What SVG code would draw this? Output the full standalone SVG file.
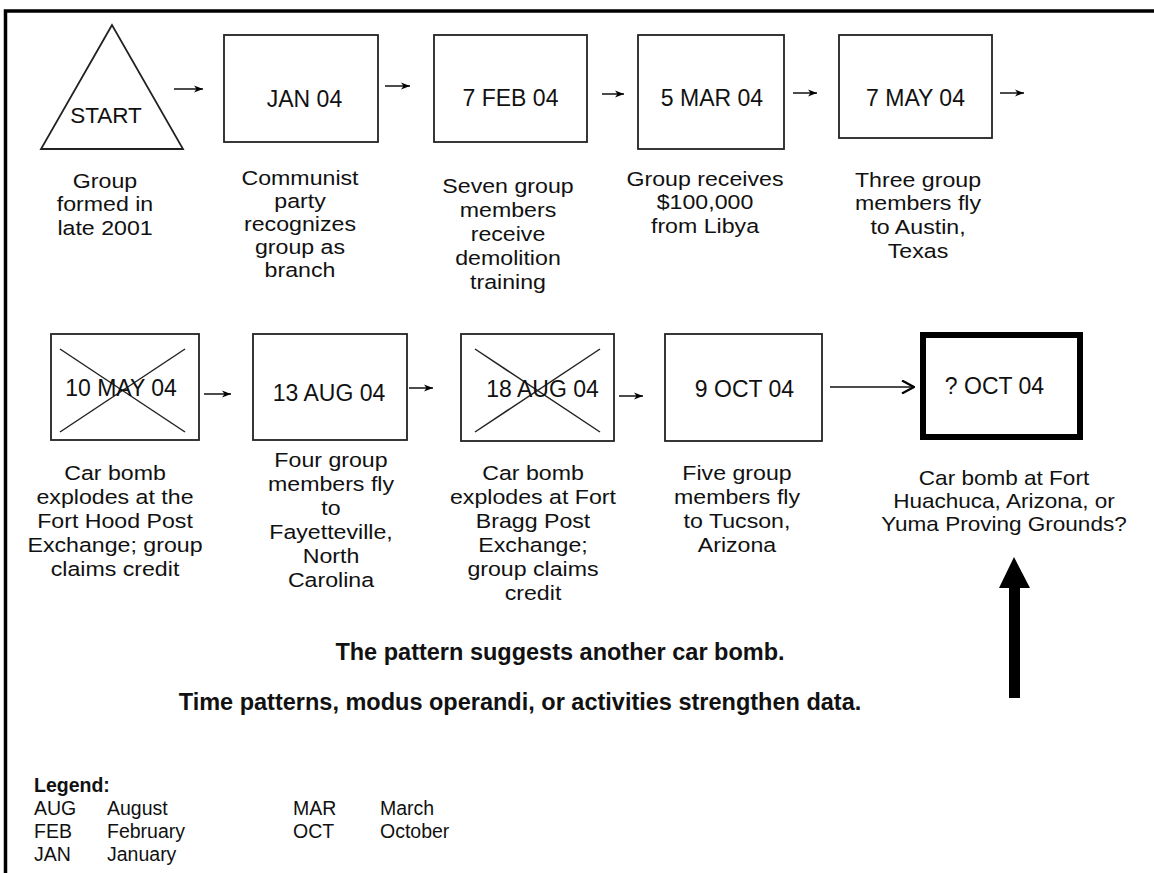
<svg xmlns="http://www.w3.org/2000/svg" width="1154" height="873" viewBox="0 0 1154 873">
<defs>
<marker id="ah" markerWidth="10" markerHeight="8" refX="9" refY="4" orient="auto" markerUnits="userSpaceOnUse">
<path d="M0,0.5 L9,4 L0,7.5 L2.5,4 Z" fill="#000"/>
</marker>
<marker id="ahl" markerWidth="14" markerHeight="14" refX="13" refY="7" orient="auto" markerUnits="userSpaceOnUse">
<path d="M1,0.5 L13,7 L1,13.5" fill="none" stroke="#000" stroke-width="2.2"/>
</marker>
</defs>
<style>
text{font-family:"Liberation Sans",Arial,sans-serif;fill:#111;}
.t{font-size:23px;text-anchor:middle;}
.c{font-size:20.5px;text-anchor:middle;}
.b{font-size:23.5px;font-weight:bold;text-anchor:middle;}
.lg{font-size:19.5px;}
.box{fill:none;stroke:#222;stroke-width:1.8;}
.x{stroke:#222;stroke-width:1.5;}
.con{stroke:#111;stroke-width:1.5;fill:none;}
</style>
<rect width="1154" height="873" fill="#fff"/>
<path d="M5.5,873 V11 H1154" fill="none" stroke="#000" stroke-width="3.5"/>

<g id="start">
<polygon class="box" points="112,25 41,149 183,149"/>
<text class="t" x="106" y="123" style="font-size:22.5px">START</text>
<g transform="translate(105,0) scale(1.13,1)">
<text class="c" x="0" y="188">Group</text>
<text class="c" x="0" y="211.5">formed in</text>
<text class="c" x="0" y="235">late 2001</text>
</g>
</g>

<g id="jan04">
<rect class="box" x="224" y="35" width="154" height="107"/>
<text class="t" x="304.5" y="107">JAN 04</text>
<g transform="translate(300,0) scale(1.13,1)">
<text class="c" x="0" y="185">Communist</text>
<text class="c" x="0" y="208">party</text>
<text class="c" x="0" y="231">recognizes</text>
<text class="c" x="0" y="254">group as</text>
<text class="c" x="0" y="277">branch</text>
</g>
</g>

<g id="feb04">
<rect class="box" x="434" y="35" width="153" height="107"/>
<text class="t" x="510.5" y="106">7 FEB 04</text>
<g transform="translate(508,0) scale(1.13,1)">
<text class="c" x="0" y="193">Seven group</text>
<text class="c" x="0" y="217">members</text>
<text class="c" x="0" y="241">receive</text>
<text class="c" x="0" y="265">demolition</text>
<text class="c" x="0" y="289">training</text>
</g>
</g>

<g id="mar04">
<rect class="box" x="638" y="35" width="146" height="114"/>
<text class="t" x="712" y="106">5 MAR 04</text>
<g transform="translate(705,0) scale(1.13,1)">
<text class="c" x="0" y="186">Group receives</text>
<text class="c" x="0" y="209.5">$100,000</text>
<text class="c" x="0" y="233">from Libya</text>
</g>
</g>

<g id="may04">
<rect class="box" x="839" y="35" width="153" height="103"/>
<text class="t" x="915.5" y="106">7 MAY 04</text>
<g transform="translate(918,0) scale(1.13,1)">
<text class="c" x="0" y="187">Three group</text>
<text class="c" x="0" y="210.5">members fly</text>
<text class="c" x="0" y="234">to Austin,</text>
<text class="c" x="0" y="258">Texas</text>
</g>
</g>

<g id="may10">
<rect class="box" x="51" y="334" width="148" height="106"/>
<line class="x" x1="60" y1="349" x2="185" y2="432"/>
<line class="x" x1="185" y1="349" x2="60" y2="432"/>
<text class="t" x="121" y="396">10 MAY 04</text>
<g transform="translate(115,0) scale(1.13,1)">
<text class="c" x="0" y="480">Car bomb</text>
<text class="c" x="0" y="504">explodes at the</text>
<text class="c" x="0" y="528">Fort Hood Post</text>
<text class="c" x="0" y="552">Exchange; group</text>
<text class="c" x="0" y="576">claims credit</text>
</g>
</g>

<g id="aug13">
<rect class="box" x="253" y="334" width="154" height="106"/>
<text class="t" x="329" y="401">13 AUG 04</text>
<g transform="translate(331,0) scale(1.13,1)">
<text class="c" x="0" y="467">Four group</text>
<text class="c" x="0" y="491">members fly</text>
<text class="c" x="0" y="515">to</text>
<text class="c" x="0" y="539">Fayetteville,</text>
<text class="c" x="0" y="563">North</text>
<text class="c" x="0" y="587">Carolina</text>
</g>
</g>

<g id="aug18">
<rect class="box" x="461" y="334" width="153" height="107"/>
<line class="x" x1="475" y1="349" x2="600" y2="432"/>
<line class="x" x1="600" y1="349" x2="475" y2="432"/>
<text class="t" x="542.5" y="397">18 AUG 04</text>
<g transform="translate(533,0) scale(1.13,1)">
<text class="c" x="0" y="480">Car bomb</text>
<text class="c" x="0" y="504">explodes at Fort</text>
<text class="c" x="0" y="528">Bragg Post</text>
<text class="c" x="0" y="552">Exchange;</text>
<text class="c" x="0" y="576">group claims</text>
<text class="c" x="0" y="600">credit</text>
</g>
</g>

<g id="oct09">
<rect class="box" x="665" y="334" width="157" height="107"/>
<text class="t" x="744.5" y="397">9 OCT 04</text>
<g transform="translate(737,0) scale(1.13,1)">
<text class="c" x="0" y="480">Five group</text>
<text class="c" x="0" y="504">members fly</text>
<text class="c" x="0" y="528">to Tucson,</text>
<text class="c" x="0" y="552">Arizona</text>
</g>
</g>

<g id="octq">
<rect x="923" y="335" width="157" height="102" fill="none" stroke="#000" stroke-width="6"/>
<text class="t" x="994.5" y="394">? OCT 04</text>
<g transform="translate(1004,0) scale(1.1,1)">
<text class="c" x="0" y="485">Car bomb at Fort</text>
<text class="c" x="0" y="508">Huachuca, Arizona, or</text>
<text class="c" x="0" y="531">Yuma Proving Grounds?</text>
</g>
</g>

<g id="connectors">
<line class="con" x1="174" y1="89" x2="203" y2="89" marker-end="url(#ah)"/>
<line class="con" x1="385" y1="86" x2="410" y2="86" marker-end="url(#ah)"/>
<line class="con" x1="602" y1="94" x2="624" y2="94" marker-end="url(#ah)"/>
<line class="con" x1="793" y1="93" x2="817" y2="93" marker-end="url(#ah)"/>
<line class="con" x1="1000" y1="93" x2="1024" y2="93" marker-end="url(#ah)"/>
<line class="con" x1="204" y1="394" x2="231" y2="394" marker-end="url(#ah)"/>
<line class="con" x1="409" y1="388" x2="433" y2="388" marker-end="url(#ah)"/>
<line class="con" x1="619" y1="396" x2="643" y2="396" marker-end="url(#ah)"/>
<line class="con" x1="830" y1="387" x2="914" y2="387" marker-end="url(#ahl)"/>
<polygon points="1014,557 1030,588 1020,588 1020,698 1009,698 1009,588 999,588" fill="#000"/>
</g>

<g id="notes">
<text class="b" x="560" y="660">The pattern suggests another car bomb.</text>
<text class="b" x="520" y="710">Time patterns, modus operandi, or activities strengthen data.</text>
</g>

<g id="legend">
<text class="lg" x="34" y="792" style="font-weight:bold">Legend:</text>
<text class="lg" x="34" y="815">AUG</text>
<text class="lg" x="107" y="815">August</text>
<text class="lg" x="34" y="838">FEB</text>
<text class="lg" x="107" y="838">February</text>
<text class="lg" x="34" y="861">JAN</text>
<text class="lg" x="107" y="861">January</text>
<text class="lg" x="293" y="815">MAR</text>
<text class="lg" x="380" y="815">March</text>
<text class="lg" x="293" y="838">OCT</text>
<text class="lg" x="380" y="838">October</text>
</g>
</svg>
